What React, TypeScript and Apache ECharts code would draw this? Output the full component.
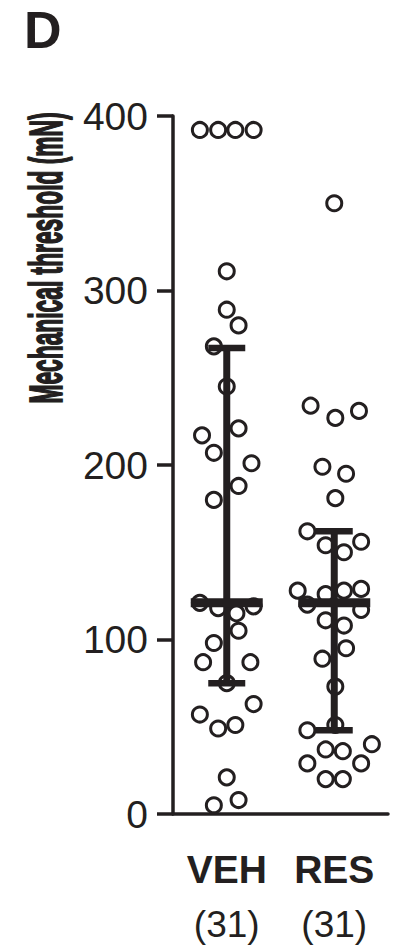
import React, { useEffect, useRef } from "react";
import * as echarts from "echarts";

// ---- data ----
const categories = ["VEH", "RES"];
const counts = [31, 31];
const yTickMin = 0;
const yTickMax = 400;
const yTickInterval = 100;

const vehValues = [392, 392, 392, 392, 311, 289, 280, 268, 245, 221, 217, 207, 201, 188, 180, 121, 118, 115, 119, 105, 98, 87, 87, 75, 63, 57, 49, 51, 21, 8, 5];
const vehJitter = [-0.25, -0.08, 0.08, 0.25, 0, 0, 0.11, -0.12, 0, 0.11, -0.23, -0.12, 0.23, 0.11, -0.12, -0.25, -0.08, 0.09, 0.25, 0.11, -0.12, -0.22, 0.22, 0, 0.25, -0.25, -0.08, 0.08, 0, 0.11, -0.12];

const resValues = [350, 234, 227, 231, 199, 195, 181, 162, 154, 150, 156, 128, 126, 128, 129, 120, 117, 111, 108, 95, 89, 73, 48, 51, 37, 36, 40, 29, 29, 20, 20];
const resJitter = [0, -0.22, 0.01, 0.23, -0.11, 0.11, 0.01, -0.25, -0.08, 0.09, 0.25, -0.34, -0.08, 0.09, 0.25, -0.25, 0.25, -0.08, 0.09, 0.11, -0.11, 0.01, -0.25, 0.01, -0.08, 0.08, 0.35, -0.25, 0.25, -0.08, 0.08];

const centers = [121, 121];
const lowers = [75, 48];
const uppers = [267, 162];

const yTitle = "Mechanical threshold (mN)";
const panelLabel = "D";

const INK = "#231f20";
const FONT = "'Liberation Sans', Arial, Helvetica, sans-serif";

export default function App() {
  const ref = useRef<HTMLDivElement>(null);
  useEffect(() => {
    if (!ref.current) return;
    const chart = echarts.init(ref.current, null, { renderer: "svg" });

    const groups = [vehValues, resValues];
    const jitters = [vehJitter, resJitter];
    const scatterSeries = groups.map((vals, gi) => ({
      type: "scatter",
      name: categories[gi],
      z: 2,
      symbol: "circle",
      symbolSize: 15,
      itemStyle: { color: "#ffffff", borderColor: INK, borderWidth: 3, opacity: 1 },
      data: vals.map((v, i) => [gi + 0.5 + jitters[gi][i], v]),
    }));

    const errData = categories.map((_, i) => [i + 0.5, lowers[i], centers[i], uppers[i]]);

    const option: any = {
      animation: false,
      grid: { left: 173, right: 10, top: 116, bottom: 136 },
      xAxis: {
        type: "value",
        min: 0,
        max: categories.length,
        interval: 0.5,
        splitLine: { show: false },
        axisTick: { show: false },
        axisLine: { show: true, lineStyle: { color: INK, width: 3.5 } },
        axisLabel: {
          margin: 31,
          showMinLabel: false,
          showMaxLabel: false,
          formatter: (v: number) => {
            const i = Math.round(v - 0.5);
            if (i >= 0 && i < categories.length && Math.abs(v - (i + 0.5)) < 1e-6) {
              return `{a|${categories[i]}}\n{b|(${counts[i]})}`;
            }
            return "";
          },
          rich: {
            a: { fontFamily: FONT, fontWeight: "bold", fontSize: 39, color: INK, lineHeight: 48 },
            b: { fontFamily: FONT, fontSize: 37, color: INK, lineHeight: 62 },
          },
        },
      },
      yAxis: {
        type: "value",
        min: yTickMin,
        max: yTickMax,
        interval: yTickInterval,
        splitLine: { show: false },
        axisLine: { show: true, lineStyle: { color: INK, width: 3.5 } },
        axisTick: { show: true, length: 16, lineStyle: { color: INK, width: 3.5 } },
        axisLabel: { margin: 25, fontFamily: FONT, fontSize: 39, color: INK },
      },
      graphic: [
        {
          type: "text",
          x: 46,
          y: 258,
          rotation: Math.PI / 2,
          scaleX: 0.485,
          style: {
            text: yTitle,
            fontFamily: FONT,
            fontWeight: "bold",
            fontSize: 47,
            fill: INK,
            stroke: INK,
            lineWidth: 1.8,
            textAlign: "center",
            textVerticalAlign: "middle",
          },
        },
        {
          type: "text",
          left: 24,
          top: 4,
          style: {
            text: panelLabel,
            fontFamily: FONT,
            fontWeight: "bold",
            fontSize: 52,
            fill: INK,
          },
        },
      ],
      series: [
        ...scatterSeries,
        {
          type: "custom",
          z: 3,
          data: errData,
          renderItem: (params: any, api: any) => {
            const x = api.value(0);
            const lo = api.coord([x, api.value(1)]);
            const mid = api.coord([x, api.value(2)]);
            const hi = api.coord([x, api.value(3)]);
            const capW = 37;
            const capH = 6.5;
            const midW = 72;
            const midH = 9;
            return {
              type: "group",
              children: [
                {
                  type: "line",
                  shape: { x1: hi[0], y1: hi[1], x2: lo[0], y2: lo[1] },
                  style: { stroke: INK, lineWidth: 7 },
                },
                {
                  type: "rect",
                  shape: { x: hi[0] - capW / 2, y: hi[1] - capH / 2, width: capW, height: capH },
                  style: { fill: INK },
                },
                {
                  type: "rect",
                  shape: { x: lo[0] - capW / 2, y: lo[1] - capH / 2, width: capW, height: capH },
                  style: { fill: INK },
                },
                {
                  type: "rect",
                  shape: { x: mid[0] - midW / 2, y: mid[1] - midH / 2, width: midW, height: midH },
                  style: { fill: INK },
                },
              ],
            };
          },
        },
      ],
    };
    chart.setOption(option);
    return () => chart.dispose();
  }, []);
  return (
    <div
      ref={ref}
      style={{ position: "fixed", left: 0, top: 0, width: 398, height: 950, background: "#ffffff" }}
    />
  );
}
